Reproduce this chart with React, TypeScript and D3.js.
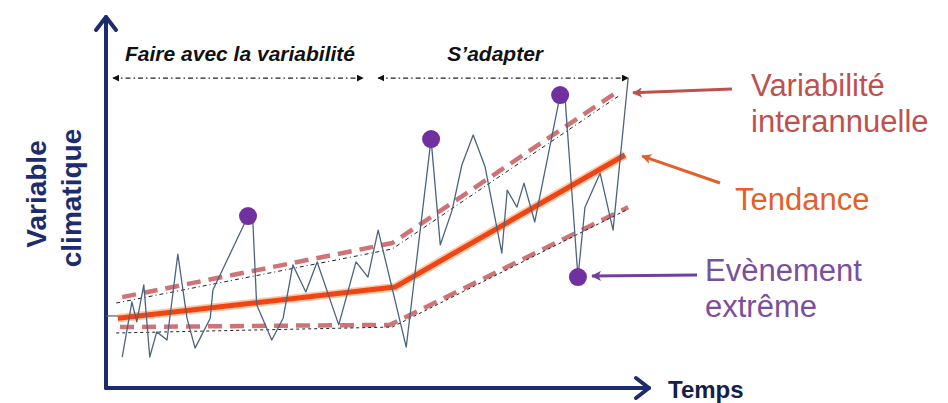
import * as d3 from 'd3';

const WIDTH = 948;
const HEIGHT = 403;

// abstract units: time 0..100, climate variable 0..100
const series: [number, number][] = [
    [3.0, 8.1], [4.8, 23.0], [5.7, 17.6], [7.0, 27.6], [8.1, 8.1], [9.4, 14.9],
    [11.3, 12.7], [13.3, 35.9], [15.0, 18.6], [16.5, 10.5], [19.3, 18.6], [19.8, 26.2],
    [26.3, 46.2], [27.2, 44.6], [27.9, 22.2], [30.7, 12.7], [32.8, 18.6], [34.6, 33.0],
    [37.0, 25.7], [39.1, 33.8], [43.1, 16.8], [46.3, 33.8], [48.5, 29.7], [50.4, 42.4],
    [55.6, 10.8], [60.2, 67.0], [61.9, 38.4], [64.1, 47.8], [65.9, 60.0], [68.0, 68.1],
    [70.2, 59.5], [73.3, 36.2], [74.3, 53.2], [76.1, 48.6], [77.4, 55.1], [79.4, 44.6],
    [84.1, 78.9], [85.0, 78.4], [87.4, 29.7], [88.7, 48.6], [91.5, 57.8], [93.9, 42.4],
    [96.7, 83.5],
];

const extremes: [number, number][] = [
    [26.3, 46.2], [60.2, 67.0], [84.1, 78.9], [87.4, 29.7],
];

const trend: [number, number][] = [[2.2, 18.6], [53.5, 27.0], [96.1, 62.7]];
const trendStub: [number, number][] = [[0, 19.2], [2.2, 19.2]];

const upperBand: [number, number][] = [[3.0, 24.3], [53.0, 38.9], [94.6, 79.7]];
const upperGuide: [number, number][] = [[1.9, 22.7], [53.0, 37.3], [95.2, 78.9]];
const lowerBand: [number, number][] = [[2.6, 16.2], [52.6, 16.8], [96.7, 48.6]];
const lowerGuide: [number, number][] = [[1.9, 14.6], [53.0, 16.2], [96.7, 48.1]];

const periodLevel = 83.5;
const periods = [
    { label: 'Faire avec la variabilité', from: 1.3, to: 47.6, dx: 2 },
    { label: 'S\u2019adapter', from: 50.4, to: 96.7, dx: -8 },
];

const notes = [
    { lines: ['Variabilité', 'interannuelle'], color: '#c0504d', arrow: '#c0504d', tip: [97.6, 79.5], tail: [732, 89], tx: 751, ty: 96 },
    { lines: ['Tendance'], color: '#e2602b', arrow: '#e2602b', tip: [99.3, 62.4], tail: [720, 183], tx: 735, ty: 210 },
    { lines: ['Evènement', 'extrême'], color: '#7a4f9e', arrow: '#7040a0', tip: [90.0, 30.0], tail: [697, 275], tx: 705, ty: 281 },
];

const FONT = '"Liberation Sans", Arial, sans-serif';
const NAVY = '#1c2c6c';

export default function App() {
    const x = d3.scaleLinear().domain([0, 100]).range([106, 646]);
    const y = d3.scaleLinear().domain([0, 100]).range([387, 17]);
    const line = d3
        .line<[number, number]>()
        .x((d) => x(d[0]))
        .y((d) => y(d[1]));

    const [x0, x1] = x.range();
    const [y0, y1] = y.range();

    return (
        <svg
            width={WIDTH}
            height={HEIGHT}
            style={{ position: 'absolute', left: 0, top: 0, background: '#fff' }}
        >
            <defs>
                <marker id="tri" viewBox="0 0 10 10" refX="9" refY="5" markerWidth="7" markerHeight="7" orient="auto-start-reverse" markerUnits="userSpaceOnUse">
                    <path d="M0,0L10,5L0,10z" fill="#111" />
                </marker>
                {notes.map((n, i) => (
                    <marker key={i} id={`note${i}`} viewBox="0 0 10 10" refX="9" refY="5" markerWidth="11" markerHeight="10" orient="auto" markerUnits="userSpaceOnUse">
                        <path d="M0,0L10,5L0,10L2.5,5z" fill={n.arrow} />
                    </marker>
                ))}
            </defs>

            {/* axes */}
            <g stroke={NAVY} strokeWidth={4} fill="none" strokeLinecap="round" strokeLinejoin="round">
                <path d={`M${x0},${y0 + 1}V${y1}`} />
                <path d={`M${x0 - 10},${y1 + 13}L${x0},${y1}L${x0 + 10},${y1 + 13}`} />
                <path d={`M${x0},${y0 + 1}H${x1 + 3}`} />
                <path d={`M${x1 - 10},${y0 - 9}L${x1 + 3},${y0 + 1}L${x1 - 10},${y0 + 11}`} />
            </g>
            <text x={668} y={398} fontFamily={FONT} fontWeight="bold" fontSize={24} fill="#14204a">
                Temps
            </text>
            <g fontFamily={FONT} fontWeight="bold" fontSize={28} fill={NAVY} textAnchor="middle">
                <text transform="translate(46,194) rotate(-90)">Variable</text>
                <text transform="translate(81,198) rotate(-90)">climatique</text>
            </g>

            {/* periods */}
            {periods.map((p) => (
                <g key={p.label}>
                    <line
                        x1={x(p.from)}
                        x2={x(p.to)}
                        y1={y(periodLevel)}
                        y2={y(periodLevel)}
                        stroke="#222"
                        strokeWidth={1.2}
                        strokeDasharray="5 3 1.5 3"
                        markerStart="url(#tri)"
                        markerEnd="url(#tri)"
                    />
                    <text
                        x={(x(p.from) + x(p.to)) / 2 + p.dx}
                        y={y(periodLevel) - 17}
                        textAnchor="middle"
                        fontFamily={FONT}
                        fontWeight="bold"
                        fontStyle="italic"
                        fontSize={21}
                        fill="#111"
                    >
                        {p.label}
                    </text>
                </g>
            ))}

            {/* envelope */}
            <g fill="none">
                <path d={line(upperBand) ?? ''} stroke="#c65a5e" strokeOpacity={0.85} strokeWidth={4.5} strokeDasharray="14 8" />
                <path d={line(lowerBand) ?? ''} stroke="#c65a5e" strokeOpacity={0.85} strokeWidth={4.5} strokeDasharray="14 8" />
                <path d={line(upperGuide) ?? ''} stroke="#222" strokeWidth={1} strokeDasharray="4 3 1 3" />
                <path d={line(lowerGuide) ?? ''} stroke="#222" strokeWidth={1} strokeDasharray="3 3" />
            </g>

            {/* trend */}
            <path d={line(trend) ?? ''} fill="none" stroke="#f7a36a" strokeOpacity={0.6} strokeWidth={8.5} strokeLinejoin="round" />
            <path d={line(trend) ?? ''} fill="none" stroke="#f04414" strokeWidth={5} strokeLinejoin="round" />
            <path d={line(trendStub) ?? ''} fill="none" stroke="#4c5f78" strokeWidth={1.2} />

            {/* inter-annual series */}
            <path d={line(series) ?? ''} fill="none" stroke="#4c6480" strokeWidth={1.3} strokeLinejoin="round" />

            {extremes.map((d, i) => (
                <circle key={i} cx={x(d[0])} cy={y(d[1])} r={9} fill="#7030a0" />
            ))}

            {/* annotations */}
            {notes.map((n, i) => (
                <g key={i}>
                    <line
                        x1={n.tail[0]}
                        y1={n.tail[1]}
                        x2={x(n.tip[0])}
                        y2={y(n.tip[1])}
                        stroke={n.arrow}
                        strokeWidth={3}
                        markerEnd={`url(#note${i})`}
                    />
                    <text x={n.tx} y={n.ty} fontFamily={FONT} fontSize={31} fill={n.color}>
                        {n.lines.map((l, j) => (
                            <tspan key={j} x={n.tx} dy={j === 0 ? 0 : 36}>
                                {l}
                            </tspan>
                        ))}
                    </text>
                </g>
            ))}
        </svg>
    );
}
